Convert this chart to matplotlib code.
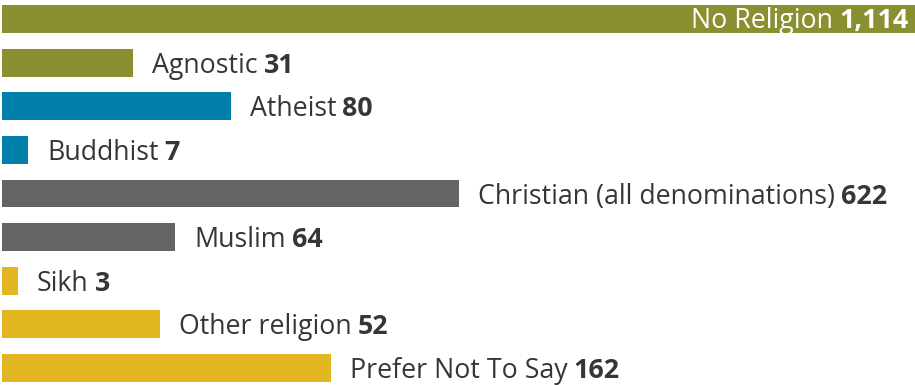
import matplotlib
matplotlib.use("Agg")
import matplotlib.pyplot as plt
import numpy as np

# data
categories = ["No Religion", "Agnostic", "Atheist", "Buddhist",
              "Christian (all denominations)", "Muslim", "Sikh",
              "Other religion", "Prefer Not To Say"]
counts = [1114, 31, 80, 7, 622, 64, 3, 52, 162]
colors = ["#8a8f30", "#8a8f30", "#0080a8", "#0080a8", "#636466",
          "#636466", "#e1b621", "#e1b621", "#e1b621"]

# the original chart does not draw bars to a linear scale,
# so map counts onto the axis with a custom monotone scale
knot_val = [0, 3, 7, 31, 52, 64, 80, 162, 622, 1114, 1200]
knot_pos = [0, 16, 26, 131, 158, 173, 228, 328, 456, 911, 990]


def fwd(v):
    return np.interp(v, knot_val, knot_pos)


def inv(p):
    return np.interp(p, knot_pos, knot_val)


plt.rcParams["font.family"] = ["Open Sans", "DejaVu Sans"]
txt_color = "#363636"
fs = 19.3

fig = plt.figure(figsize=(9.15, 3.85), dpi=100)
ax = fig.add_axes([2 / 915, 0, 913 / 915, 1])
ax.set_xscale("function", functions=(fwd, inv))

y = np.arange(len(categories))
ax.barh(y, counts, height=0.64, color=colors, edgecolor="none")
ax.set_xlim(0, 1114)
ax.set_ylim(8 + 17 / 43.6, -19 / 43.6)
ax.axis("off")

fig.canvas.draw()
renderer = fig.canvas.get_renderer()

for i, (cat, n) in enumerate(zip(categories, counts)):
    num = f"{n:,}"
    if i == 0:
        # label sits inside the long bar, right aligned
        t2 = ax.annotate(num, xy=(n, i), xytext=(-7, -2), textcoords="offset pixels",
                         ha="right", va="center", fontsize=fs, fontweight="bold",
                         color="white")
        fig.canvas.draw()
        bb = t2.get_window_extent(renderer)
        fig.text(bb.x0 - 6, bb.y0 + bb.height / 2, cat, transform=None,
                 ha="right", va="center", fontsize=fs, color="white")
    else:
        t1 = ax.annotate(cat, xy=(n, i), xytext=(19, -3), textcoords="offset pixels",
                         ha="left", va="center", fontsize=fs, color=txt_color)
        fig.canvas.draw()
        bb = t1.get_window_extent(renderer)
        fig.text(bb.x1 + 6, bb.y0 + bb.height / 2, num, transform=None,
                 ha="left", va="center", fontsize=fs, fontweight="bold",
                 color=txt_color)

fig.savefig("out.png", dpi=100)
